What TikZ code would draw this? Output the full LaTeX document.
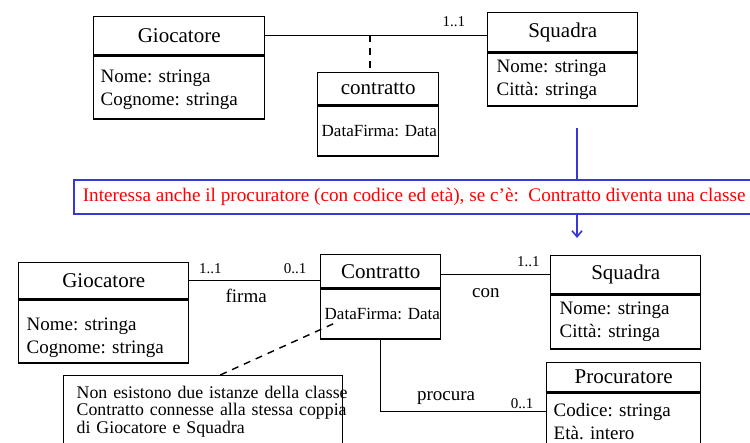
\documentclass[tikz,border=0pt]{standalone}
\usepackage{fontspec}
\setmainfont{Liberation Serif}
\usetikzlibrary{arrows.meta,calc}
\frenchspacing

\definecolor{bluastro}{RGB}{55,55,215}

\begin{document}
\begin{tikzpicture}[x=1pt, y=-1pt, >={Straight Barb[length=6pt,width=10pt]},
    titolo/.style={draw, line width=1.4pt, anchor=north west, inner sep=0pt,
        font=\fontsize{21}{24}\selectfont},
    attributi/.style={draw, line width=1.4pt, anchor=north west, inner ysep=0pt,
        align=left, font=\fontsize{19}{23}\selectfont},
    molt/.style={inner sep=1pt, font=\fontsize{15}{17}\selectfont},
    ruolo/.style={inner sep=3pt, font=\fontsize{19}{21}\selectfont},
    legame/.style={line width=1.4pt},
    tratteggio/.style={line width=1.4pt, dash pattern=on 7pt off 6pt},
    freccia/.style={line width=1.6pt, bluastro}]

    % --- Frame ---
    \useasboundingbox (0,0) rectangle (750,443);
    \clip (0,0) rectangle (750,443);

    % --- Schema iniziale ---
    \node[titolo, minimum width=171pt, minimum height=38pt] (gioA) at (93,16) {Giocatore};
    \node[attributi, inner xsep=7pt, text width=157pt, minimum height=63pt] (gioAattr)
        at (gioA.south west) {\rule{0pt}{17pt}Nome: stringa\\Cognome: stringa};

    \node[titolo, minimum width=150pt, minimum height=39pt] (squA) at (487,12) {Squadra};
    \node[attributi, inner xsep=9pt, text width=132pt, minimum height=53pt] (squAattr)
        at (squA.south west) {Nome: stringa\\Città: stringa};

    \node[titolo, minimum width=121pt, minimum height=32pt] (conA) at (317,72) {contratto};
    \node[attributi, inner xsep=4pt, text width=113pt, minimum height=50pt,
        font=\fontsize{17}{20}\selectfont] (conAattr) at (conA.south west) {\mbox{DataFirma: Data}};

    \draw[legame] (gioA.east) -- (gioA.east -| squA.west)
        node[molt, pos=0.85, above=7pt] {1..1};
    \coordinate (assA) at (370,35);
    \draw[tratteggio] (assA) -- (assA |- conA.north);

    % --- Passaggio ---
    \node[draw=bluastro, line width=1.6pt, anchor=north west, minimum height=34pt,
        inner xsep=9pt, inner ysep=0pt, text=red, font=\fontsize{19.2}{22}\selectfont]
        (avviso) at (73,179)
        {Interessa anche il procuratore (con codice ed età), se c’è:\ \ Contratto diventa una classe};
    \coordinate (partenza) at (577,128);
    \coordinate (arrivo) at (577,238);
    \draw[freccia] (partenza) -- (partenza |- avviso.north);
    \draw[freccia, ->] (arrivo |- avviso.south) -- (arrivo);

    % --- Schema con la classe Contratto ---
    \node[titolo, minimum width=170pt, minimum height=36pt] (gioB) at (18,262) {Giocatore};
    \node[attributi, inner xsep=8pt, text width=154pt, minimum height=63pt] (gioBattr)
        at (gioB.south west) {\rule{0pt}{25pt}Nome: stringa\\Cognome: stringa};

    \node[titolo, minimum width=120pt, minimum height=33pt] (conB) at (320,254) {Contratto};
    \node[attributi, inner xsep=4pt, text width=112pt, minimum height=50pt,
        font=\fontsize{17}{20}\selectfont] (conBattr) at (conB.south west) {\mbox{DataFirma: Data}};

    \node[titolo, minimum width=150pt, minimum height=38pt] (squB) at (550,255) {Squadra};
    \node[attributi, inner xsep=9pt, text width=132pt, minimum height=54pt] (squBattr)
        at (squB.south west) {Nome: stringa\\Città: stringa};

    \node[titolo, minimum width=154pt, minimum height=29pt] (proB) at (546,362) {Procuratore};
    \node[attributi, inner xsep=7pt, text width=140pt, minimum height=57pt] (proBattr)
        at (proB.south west) {Codice: stringa\\Età. intero};

    \draw[legame] (gioB.east) -- (gioB.east -| conB.west)
        node[molt, pos=0.16, above=5pt] {1..1}
        node[molt, pos=0.81, above=5pt] {0..1}
        node[ruolo, pos=0.435, below=5pt] {firma};
    \draw[legame] (squB.west -| conB.east) -- (squB.west)
        node[molt, pos=0.8, above=6pt] {1..1}
        node[ruolo, pos=0.41, below=10pt] {con};
    \draw[legame] (conBattr.south) |- ($(proBattr.north west)+(0,19)$)
        node[ruolo, pos=0.698, above=3pt] {procura}
        node[molt, pos=0.928, above=1pt] {0..1};

    % --- Vincolo ---
    \node[draw, line width=1.4pt, anchor=north west, inner xsep=13pt, inner ysep=10pt,
        text width=253pt, align=left,
        font=\fontsize{17.8}{17.8}\selectfont] (nota) at (63,375)
        {\mbox{Non esistono due istanze della classe}\\
         \mbox{Contratto connesse alla stessa coppia}\\
         \mbox{di Giocatore e Squadra}\rule[-10pt]{0pt}{10pt}};
    \coordinate (vincolo) at (335,323);
    \draw[tratteggio] ([xshift=17pt]nota.north) -- (vincolo);

\end{tikzpicture}
\end{document}
